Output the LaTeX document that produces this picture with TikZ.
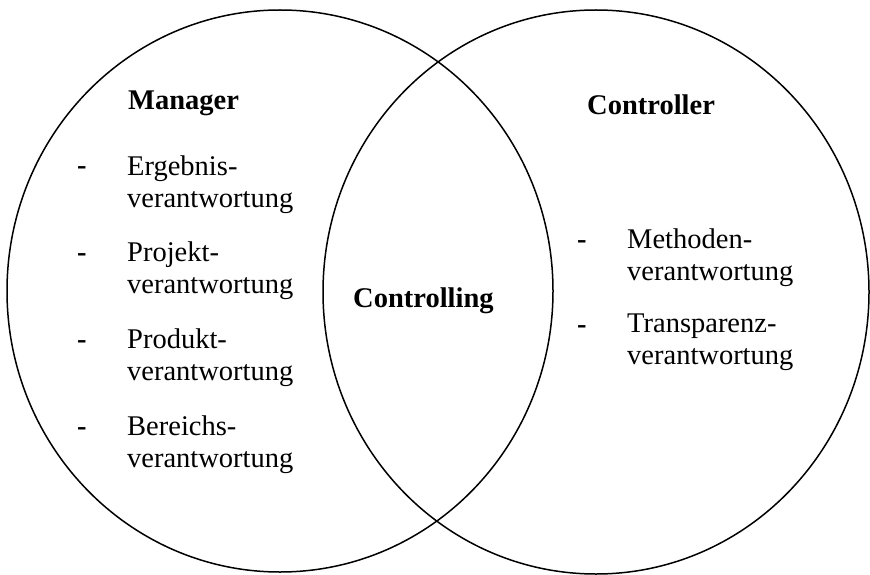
\documentclass[tikz,border=0pt]{standalone}
\usepackage{fontspec}
\setmainfont{Liberation Serif}
\usetikzlibrary{shapes.geometric}
\tikzstyle{setnode} = [ellipse, draw=black, line width=1.5pt, inner sep=0pt]
\tikzstyle{headnode} = [font=\fontsize{28.5}{32}\selectfont\bfseries, inner sep=0pt, anchor=base west]
\tikzstyle{itemnode} = [font=\fontsize{28.5}{32}\selectfont, align=left, inner sep=0pt, anchor=base west]
\tikzstyle{dashnode} = [font=\fontsize{28.5}{32}\selectfont\bfseries, inner sep=0pt, anchor=base west]

\begin{document}
\begin{tikzpicture}[x=1pt, y=-1pt, node distance=86.7pt]
        \useasboundingbox (0,0) rectangle (870,575);
        \node (manset) [setnode, minimum width=546pt, minimum height=562pt] at (280,291) {};
        \node (conset) [setnode, minimum width=546pt, minimum height=564pt] at (596,292) {};

        \node (manhead) [headnode] at (128,110) {Manager};
        \node (ergebnis) [itemnode] at (127,207) {Ergebnis-\\verantwortung};
        \node (projekt) [itemnode, below of=ergebnis] {Projekt-\\verantwortung};
        \node (produkt) [itemnode, below of=projekt] {Produkt-\\verantwortung};
        \node (bereich) [itemnode, below of=produkt] {Bereichs-\\verantwortung};
        \node (dash1) [dashnode] at (77,175) {-};
        \node (dash2) [dashnode, below of=dash1] {-};
        \node (dash3) [dashnode, below of=dash2] {-};
        \node (dash4) [dashnode, below of=dash3] {-};

        \node (ctrl) [headnode] at (353,307) {Controlling};

        \node (conhead) [headnode] at (587,115) {Controller};
        \node (methoden) [itemnode] at (627,280) {Methoden-\\verantwortung};
        \node (transparenz) [itemnode, below of=methoden, yshift=1.7pt] {Transparenz-\\verantwortung};
        \node (dash5) [dashnode] at (577,248) {-};
        \node (dash6) [dashnode, below of=dash5, yshift=1.7pt] {-};
    \end{tikzpicture}
\end{document}
